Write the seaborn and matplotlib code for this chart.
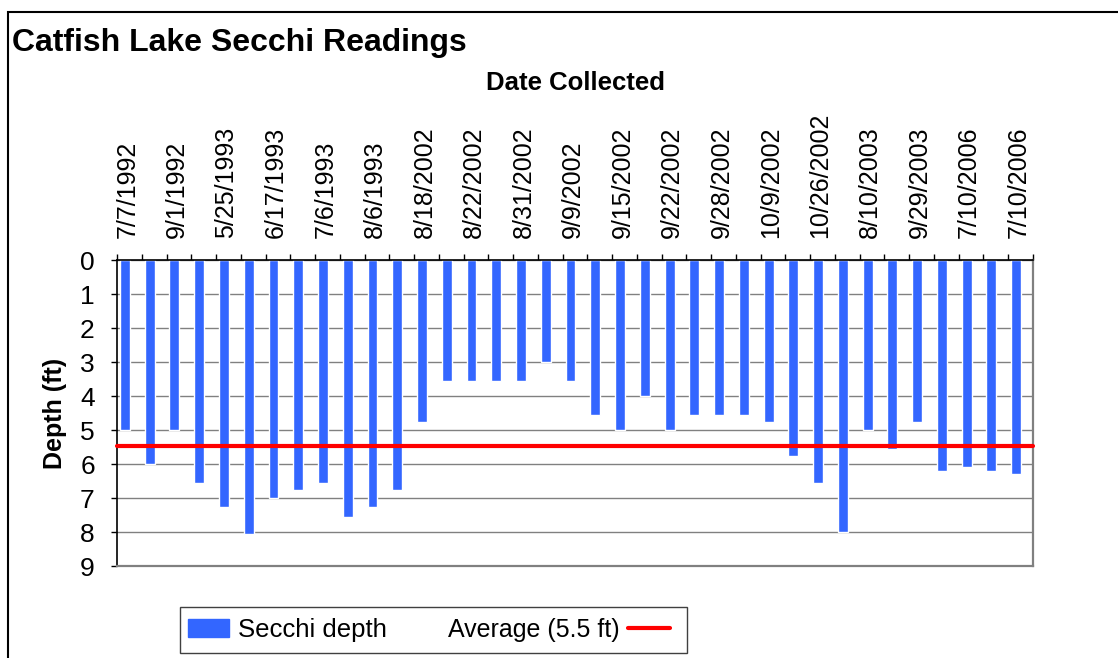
"""Catfish Lake Secchi readings, bar chart with the average depth line."""

import matplotlib.pyplot as plt
import numpy as np
import seaborn as sns
from matplotlib.lines import Line2D
from matplotlib.patches import Patch, Rectangle

# Secchi depth (ft) for every visit, in sampling order
DEPTHS = [5.0, 6.0, 5.0, 6.55, 7.25, 8.05, 7.0, 6.75, 6.55, 7.55, 7.25, 6.75,
          4.75, 3.55, 3.55, 3.55, 3.55, 3.0, 3.55, 4.55, 5.0, 4.0, 5.0, 4.55,
          4.55, 4.55, 4.75, 5.75, 6.55, 8.0, 5.0, 5.55, 4.75, 6.2, 6.1, 6.2, 6.3]

# only every second visit carries a date label
DATE_LABELS = ["7/7/1992", "9/1/1992", "5/25/1993", "6/17/1993", "7/6/1993",
               "8/6/1993", "8/18/2002", "8/22/2002", "8/31/2002", "9/9/2002",
               "9/15/2002", "9/22/2002", "9/28/2002", "10/9/2002", "10/26/2002",
               "8/10/2003", "9/29/2003", "7/10/2006", "7/10/2006"]

BAR_COLOR = "#3366FF"
AVG_COLOR = "#FF0000"

sns.set_style("white")
plt.rcParams["font.family"] = ["Liberation Sans", "DejaVu Sans"]
plt.rcParams["text.color"] = "black"
plt.rcParams["xtick.color"] = "black"
plt.rcParams["ytick.color"] = "black"

W, H = 1118, 658
fig = plt.figure(figsize=(W / 100, H / 100), dpi=100)
ax = fig.add_axes([117 / W, 1 - 566 / H, (1033 - 117) / W, (566 - 260) / H])

positions = np.arange(len(DEPTHS))
sns.barplot(x=positions, y=DEPTHS, color=BAR_COLOR, saturation=1, width=0.4,
            errorbar=None, ax=ax, zorder=2)

avg = np.mean(DEPTHS)
ax.axhline(avg, color=AVG_COLOR, lw=3, zorder=3, clip_on=False)

# bars sit a little left of the middle of each category slot, as in the original
offset = 0.32
ax.set_ylim(9, 0)
ax.set_xlim(-offset, len(DEPTHS) - offset)
ax.set_yticks(range(0, 10))
ax.yaxis.grid(True, color="#808080", lw=1)
ax.set_axisbelow(True)
ax.set_xlabel("")
ax.set_ylabel("")

# date labels on top, tick marks at category edges
ax.xaxis.tick_top()
ax.set_xticks(positions[::2] + 0.1)
ax.set_xticklabels(DATE_LABELS, rotation=90, fontsize=18)
ax.set_xticks(np.arange(len(DEPTHS) + 1) - offset, minor=True)
ax.tick_params(axis="x", which="major", length=0, pad=16)
ax.tick_params(axis="x", which="minor", top=True, bottom=False, length=4,
               width=1, color="black", direction="out")
ax.tick_params(axis="y", left=True, length=4, width=1, color="black",
               direction="out", labelsize=19, pad=12)

for side in ["left", "top"]:
    ax.spines[side].set_color("black")
    ax.spines[side].set_linewidth(1.2)
for side in ["right", "bottom"]:
    ax.spines[side].set_color("#808080")
    ax.spines[side].set_linewidth(1.6)

fig.text(12 / W, 1 - 43 / H, "Catfish Lake Secchi Readings", fontsize=23,
         fontweight="bold", ha="left", va="center")
fig.text(575 / W, 1 - 83 / H, "Date Collected", fontsize=18.5,
         fontweight="bold", ha="center", va="center")
fig.text(55 / W, 1 - 413 / H, "Depth (ft)", fontsize=18, fontweight="bold",
         rotation=90, ha="center", va="center")

# outer chart border (runs off the right and bottom edges)
fig.patches.append(Rectangle((8 / W, -0.2), 1.2, 1.2 - 12 / H,
                             transform=fig.transFigure, fill=False,
                             edgecolor="black", lw=1.5))

# legend box with the two entries laid out like the original
fig.patches.append(Rectangle((180 / W, 1 - 653 / H), (687 - 180) / W, 46 / H,
                             transform=fig.transFigure, fill=False,
                             edgecolor="#404040", lw=1))
fig.legend([Patch(color=BAR_COLOR)], ["Secchi depth"],
           loc="center left", bbox_to_anchor=(180 / W, 1 - 630 / H),
           frameon=False, fontsize=18.5, handlelength=1.6,
           handleheight=0.75, handletextpad=0.35, borderpad=0,
           borderaxespad=0.3)
fig.legend([Line2D([], [], color=AVG_COLOR, lw=3)], ["Average (5.5 ft)"],
           loc="center left", bbox_to_anchor=(440 / W, 1 - 630 / H),
           frameon=False, fontsize=18, markerfirst=False, handlelength=1.7,
           handletextpad=0.35, borderpad=0, borderaxespad=0.3)

fig.savefig("out.png", dpi=100)
